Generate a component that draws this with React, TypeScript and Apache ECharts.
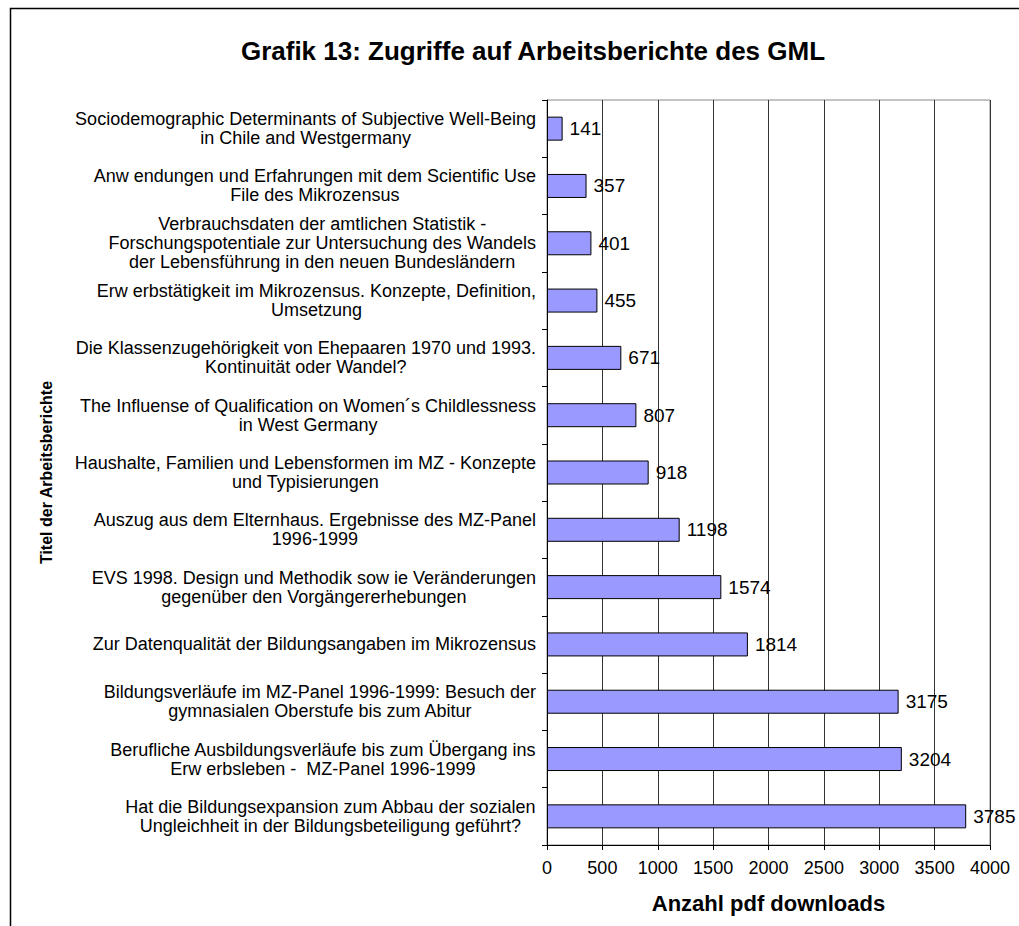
import React, { useEffect, useRef } from "react";
import * as echarts from "echarts";

const titleText = "Grafik 13: Zugriffe auf Arbeitsberichte des GML";
const yAxisName = "Titel der Arbeitsberichte";
const xAxisName = "Anzahl pdf downloads";

const categories: string[] = [
  "Sociodemographic Determinants of Subjective Well-Being\nin Chile and Westgermany",
  "Anw endungen und Erfahrungen mit dem Scientific Use\nFile des Mikrozensus",
  "Verbrauchsdaten der amtlichen Statistik -\nForschungspotentiale zur Untersuchung des Wandels\nder Lebensführung in den neuen Bundesländern",
  "Erw erbstätigkeit im Mikrozensus. Konzepte, Definition,\nUmsetzung",
  "Die Klassenzugehörigkeit von Ehepaaren 1970 und 1993.\nKontinuität oder Wandel?",
  "The Influense of Qualification on Women´s Childlessness\nin West Germany",
  "Haushalte, Familien und Lebensformen im MZ - Konzepte\nund Typisierungen",
  "Auszug aus dem Elternhaus. Ergebnisse des MZ-Panel\n1996-1999",
  "EVS 1998. Design und Methodik sow ie Veränderungen\ngegenüber den Vorgängererhebungen",
  "Zur Datenqualität der Bildungsangaben im Mikrozensus",
  "Bildungsverläufe im MZ-Panel 1996-1999: Besuch der\ngymnasialen Oberstufe bis zum Abitur",
  "Berufliche Ausbildungsverläufe bis zum Übergang ins\nErw erbsleben -  MZ-Panel 1996-1999",
  "Hat die Bildungsexpansion zum Abbau der sozialen\nUngleichheit in der Bildungsbeteiligung geführt?",
];

const downloads: number[] = [141, 357, 401, 455, 671, 807, 918, 1198, 1574, 1814, 3175, 3204, 3785];

const xTicks: number[] = [0, 500, 1000, 1500, 2000, 2500, 3000, 3500, 4000];

const FONT = "'Liberation Sans', Arial, sans-serif";

export default function App() {
  const ref = useRef<HTMLDivElement>(null);

  useEffect(() => {
    if (!ref.current) return;
    const chart = echarts.init(ref.current, null, { renderer: "svg" });
    const option: any = {
      animation: false,
      backgroundColor: "#ffffff",
      title: {
        text: titleText,
        left: 528,
        top: 33,
        textAlign: "center",
        textStyle: { fontFamily: FONT, fontSize: 26, fontWeight: "bold", color: "#000" },
      },
      graphic: [
        {
          type: "polyline",
          shape: { points: [[10.5, 926], [10.5, 8.5], [1019, 8.5]] },
          style: { stroke: "#000", fill: null, lineWidth: 1.5 },
          silent: true,
        },
      ],
      grid: {
        left: 547,
        right: 29,
        top: 100,
        bottom: 81,
        containLabel: false,
        outerBoundsMode: "none",
        show: true,
        borderColor: "#888",
        borderWidth: 1,
        backgroundColor: "transparent",
      },
      xAxis: {
        type: "value",
        min: xTicks[0],
        max: xTicks[xTicks.length - 1],
        interval: xTicks[1] - xTicks[0],
        name: xAxisName,
        nameLocation: "middle",
        nameGap: 47,
        nameTextStyle: { fontFamily: FONT, fontSize: 22, fontWeight: "bold", color: "#000" },
        axisLine: { show: true, lineStyle: { color: "#000", width: 1 } },
        axisTick: { show: true, length: 5, lineStyle: { color: "#000" } },
        axisLabel: {
          fontFamily: FONT,
          fontSize: 18,
          color: "#000",
          margin: 14,
          formatter: (v: number) => String(v),
        },
        splitLine: { show: true, lineStyle: { color: "#333", width: 1 } },
      },
      yAxis: {
        type: "category",
        inverse: true,
        data: categories,
        name: yAxisName,
        nameLocation: "middle",
        nameGap: 493,
        nameTextStyle: { fontFamily: FONT, fontSize: 16, fontWeight: "bold", color: "#000" },
        axisLine: { show: true, lineStyle: { color: "#000", width: 1 } },
        axisTick: { show: true, length: 5, lineStyle: { color: "#000" } },
        axisLabel: {
          margin: 11,
          interval: 0,
          fontFamily: FONT,
          fontSize: 18,
          color: "#000",
          lineHeight: 19,
          formatter: (v: string) =>
            v
              .split("\n")
              .map((l) => `{c|${l}}`)
              .join("\n"),
          rich: {
            c: { align: "center", fontFamily: FONT, fontSize: 18, lineHeight: 19, color: "#000" },
          },
        },
        splitLine: { show: false },
      },
      series: [
        {
          type: "bar",
          data: downloads,
          barWidth: 24,
          itemStyle: { color: "#9999FF", borderColor: "#000", borderWidth: 1 },
          label: {
            show: true,
            position: "right",
            distance: 7,
            fontFamily: FONT,
            fontSize: 19,
            color: "#000",
          },
        },
      ],
    };
    chart.setOption(option);
    return () => chart.dispose();
  }, []);

  return (
    <div
      ref={ref}
      style={{ position: "absolute", left: 0, top: 0, width: 1019, height: 926, background: "#fff" }}
    />
  );
}
